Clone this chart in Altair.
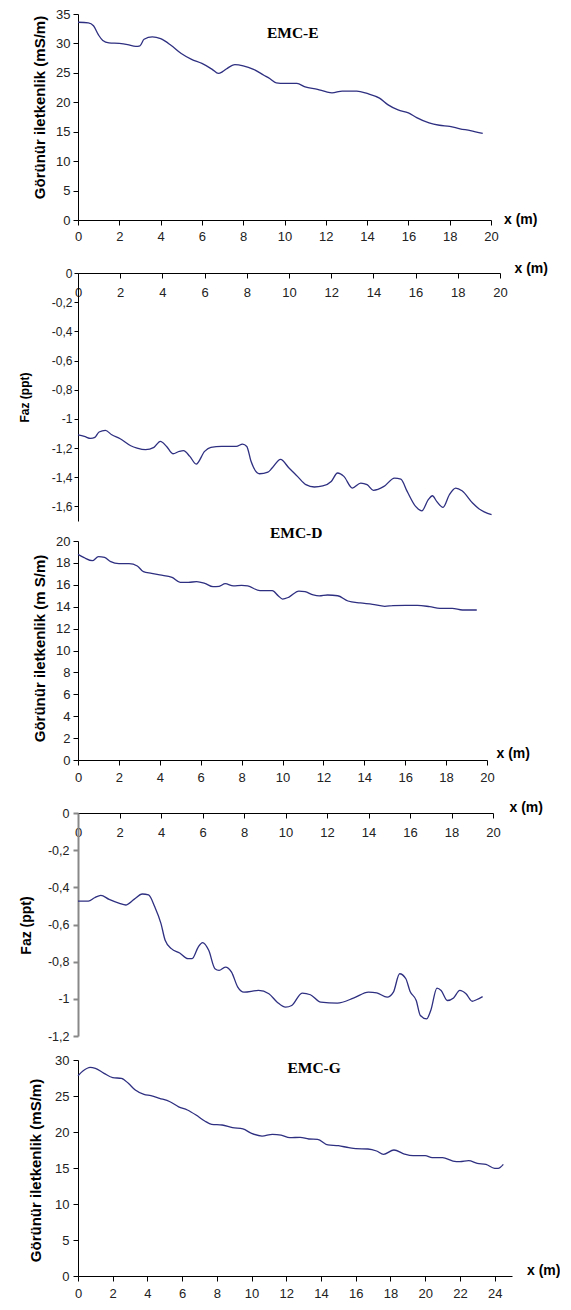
import altair as alt
import pandas as pd

FONT = "Liberation Sans"
SERIF = "Liberation Serif"
LINE = "#2e2f80"

# Panel 1: EMC-E apparent conductivity (mS/m)
e_x = [0, 0.5, 0.75, 1.0, 1.2, 1.5, 2.0, 2.4, 2.8, 3.0, 3.2, 3.6, 4.0, 4.5, 5.0, 5.5, 6.0, 6.5, 6.8, 7.0,
       7.2, 7.6, 8.0, 8.5, 9.0, 9.3, 9.6, 10.0, 10.6, 11.0, 11.6, 12.0, 12.3, 12.8, 13.5, 14.0, 14.6, 15.0,
       15.5, 16.0, 16.4, 17.0, 17.5, 18.0, 18.5, 19.0, 19.6]
e_y = [33.6, 33.5, 33.0, 31.4, 30.5, 30.1, 30.0, 29.8, 29.5, 29.6, 30.7, 31.1, 30.8, 29.7, 28.3, 27.3, 26.6,
       25.6, 24.9, 25.2, 25.7, 26.4, 26.2, 25.6, 24.6, 24.0, 23.3, 23.2, 23.2, 22.6, 22.2, 21.8, 21.6, 21.9,
       21.9, 21.5, 20.7, 19.6, 18.7, 18.2, 17.4, 16.5, 16.1, 15.9, 15.5, 15.2, 14.7]

# Panel 2: EMC-E phase (ppt)
pe_x = [0, 0.3, 0.6, 0.8, 1.0, 1.3, 1.6, 2.0, 2.5, 2.8, 3.2, 3.6, 3.9, 4.2, 4.5, 4.8, 5.0, 5.3, 5.6, 6.0,
        6.3, 6.8, 7.5, 7.8, 8.0, 8.2, 8.6, 9.0, 9.2, 9.6, 10.0, 10.4, 10.8, 11.2, 11.6, 12.0, 12.3, 12.6,
        13.0, 13.4, 13.7, 14.0, 14.5, 15.0, 15.3, 15.6, 16.0, 16.3, 16.6, 16.8, 17.0, 17.3, 17.6, 17.9,
        18.2, 18.7, 19.0, 19.6]
pe_y = [-1.11, -1.12, -1.134, -1.127, -1.09, -1.079, -1.109, -1.136, -1.184, -1.20, -1.211, -1.195, -1.154,
        -1.189, -1.239, -1.223, -1.218, -1.257, -1.31, -1.223, -1.195, -1.189, -1.189, -1.173, -1.189,
        -1.291, -1.376, -1.365, -1.337, -1.278, -1.337, -1.394, -1.451, -1.467, -1.46, -1.429, -1.371,
        -1.394, -1.474, -1.44, -1.451, -1.49, -1.463, -1.406, -1.413, -1.497, -1.60, -1.63, -1.554, -1.527,
        -1.566, -1.607, -1.52, -1.474, -1.493, -1.577, -1.616, -1.657]

# Panel 3: EMC-D apparent conductivity (mS/m)
d_x = [0, 0.3, 0.7, 1.0, 1.3, 1.6, 2.0, 2.5, 2.9, 3.2, 3.6, 4.0, 4.6, 5.0, 5.4, 5.8, 6.2, 6.6, 6.9, 7.2,
       7.6, 8.0, 8.3, 8.9, 9.5, 9.8, 10.0, 10.3, 10.8, 11.1, 11.5, 11.8, 12.2, 12.7, 13.2, 13.8, 14.4, 15.0,
       15.4, 16.0, 16.6, 17.2, 17.7, 18.3, 18.8, 19.5]
d_y = [18.78, 18.48, 18.2, 18.57, 18.5, 18.11, 17.93, 17.93, 17.72, 17.2, 17.05, 16.9, 16.68, 16.22, 16.22,
       16.29, 16.13, 15.83, 15.86, 16.1, 15.9, 15.95, 15.9, 15.46, 15.46, 14.98, 14.7, 14.86, 15.43, 15.37,
       15.07, 14.98, 15.07, 15.0, 14.52, 14.34, 14.22, 14.03, 14.1, 14.13, 14.13, 14.0, 13.85, 13.85, 13.7,
       13.7]

# Panel 4: EMC-D phase (ppt)
pd_x = [0, 0.5, 0.8, 1.1, 1.5, 2.0, 2.3, 2.7, 3.1, 3.4, 3.7, 4.0, 4.2, 4.5, 4.9, 5.3, 5.5, 5.8, 6.0, 6.3,
        6.6, 6.8, 7.1, 7.4, 7.7, 8.0, 8.7, 9.2, 9.6, 10.0, 10.3, 10.8, 11.2, 11.7, 12.5, 13.3, 14.0, 14.4,
        14.9, 15.2, 15.5, 15.8, 16.0, 16.3, 16.5, 16.8, 17.0, 17.3, 17.5, 17.8, 18.1, 18.4, 18.7, 19.0,
        19.2, 19.5]
pd_y = [-0.474, -0.474, -0.456, -0.443, -0.465, -0.486, -0.495, -0.465, -0.436, -0.441, -0.505, -0.595,
        -0.685, -0.73, -0.753, -0.784, -0.784, -0.72, -0.697, -0.739, -0.838, -0.847, -0.829, -0.856,
        -0.937, -0.964, -0.955, -0.973, -1.018, -1.045, -1.036, -0.969, -0.978, -1.018, -1.023, -0.995,
        -0.964, -0.968, -0.991, -0.964, -0.865, -0.892, -0.959, -1.009, -1.09, -1.108, -1.063, -0.942,
        -0.955, -1.009, -0.995, -0.955, -0.973, -1.013, -1.005, -0.988]

# Panel 5: EMC-G apparent conductivity (mS/m)
g_x = [0, 0.3, 0.7, 1.0, 1.5, 2.0, 2.5, 2.9, 3.3, 3.8, 4.2, 4.7, 5.3, 5.8, 6.3, 6.8, 7.3, 7.7, 8.3, 8.9,
       9.5, 10.0, 10.6, 11.2, 11.7, 12.2, 12.8, 13.3, 13.8, 14.4, 15.0, 15.6, 16.0, 16.7, 17.2, 17.6, 18.2,
       18.8, 19.3, 20.0, 20.4, 21.0, 21.6, 22.0, 22.5, 23.0, 23.5, 24.0, 24.2, 24.5]
g_y = [27.82, 28.5, 28.98, 28.84, 28.15, 27.55, 27.45, 26.76, 25.83, 25.23, 25.05, 24.68, 24.2, 23.5, 23.06,
       22.36, 21.53, 21.06, 20.97, 20.6, 20.42, 19.81, 19.44, 19.68, 19.58, 19.21, 19.26, 19.03, 18.98, 18.2,
       18.1, 17.82, 17.69, 17.64, 17.36, 16.9, 17.5, 16.94, 16.71, 16.71, 16.44, 16.44, 15.97, 15.88, 16.02,
       15.65, 15.5, 14.95, 14.95, 15.5]

# Tick values
x_ticks_20 = [0, 2, 4, 6, 8, 10, 12, 14, 16, 18, 20]
x_ticks_24 = [0, 2, 4, 6, 8, 10, 12, 14, 16, 18, 20, 22, 24]
y_ticks_35 = [0, 5, 10, 15, 20, 25, 30, 35]
y_ticks_20 = [0, 2, 4, 6, 8, 10, 12, 14, 16, 18, 20]
y_ticks_30 = [0, 5, 10, 15, 20, 25, 30]
y_ticks_p16 = [0, -0.2, -0.4, -0.6, -0.8, -1.0, -1.2, -1.4, -1.6]
y_ticks_p12 = [0, -0.2, -0.4, -0.6, -0.8, -1.0, -1.2]

COMMA = "(datum.value < 0 ? '-' : '') + replace(format(abs(datum.value), '~g'), '.', ',')"

YT_COND = "Görünür iletkenlik (mS/m)"
YT_COND_D = "Görünür iletkenlik (m S/m)"
YT_PHASE = "Faz (ppt)"
XT = "x (m)"


def x_axis(w, values, top=None, h=0, tx=12, ty=-1, lsize=13, lpad=5):
    kw = dict(
        title=XT, titleX=w + tx, titleY=ty, titleAlign="left", titleBaseline="middle", titleAngle=0,
        titleFont=FONT, titleFontSize=14, titleFontWeight="bold", titleColor="#000",
        values=values, format="d", labelFont=FONT, labelFontSize=lsize, labelColor="#222",
        labelPadding=lpad, labelFlush=False, labelOverlap=False, tickSize=5, tickColor="#000",
        domainColor="#000", grid=False, orient="bottom",
    )
    if top:
        kw["offset"] = -h
    return alt.Axis(**kw)


def y_axis(title, values, tx, ty, tsize, lsize, tick, lpad, comma=False, dcolor="#000", dwidth=1):
    kw = dict(
        title=title, titleX=tx, titleY=ty, titleAngle=270, titleAlign="center", titleBaseline="middle",
        titleFont=FONT, titleFontSize=tsize, titleFontWeight="bold", titleColor="#000",
        values=values, labelFont=FONT, labelFontSize=lsize, labelColor="#222", labelPadding=lpad,
        labelFlush=False, labelOverlap=False, tickSize=tick, tickColor=dcolor, domainColor=dcolor,
        domainWidth=dwidth, tickWidth=dwidth, grid=False,
    )
    if comma:
        kw["labelExpr"] = COMMA
    return alt.Axis(**kw)


def panel(xs, ys, w, h, xdom, ydom, xax, yax, label=None, lx=None, ly=None):
    df = pd.DataFrame({"x": xs, "y": ys})
    xs_ = alt.Scale(domain=xdom, nice=False, zero=False)
    ys_ = alt.Scale(domain=ydom, nice=False, zero=False)
    line = alt.Chart(df).mark_line(color=LINE, strokeWidth=1.3, interpolate="monotone").encode(
        x=alt.X("x:Q", scale=xs_, axis=xax),
        y=alt.Y("y:Q", scale=ys_, axis=yax),
    )
    layers = [line]
    if label:
        t = alt.Chart(pd.DataFrame({"t": [label]})).mark_text(
            font=SERIF, fontSize=15.5, fontWeight="bold", color="#000", align="center", baseline="middle"
        ).encode(
            x=alt.datum(lx, scale=xs_, axis=xax, type="quantitative"),
            y=alt.datum(ly, scale=ys_, axis=yax, type="quantitative"),
            text="t:N",
        )
        layers.append(t)
    return alt.layer(*layers).properties(width=w, height=h)


W1, H1 = 413, 206
W2, H2 = 422, 248
W3, H3 = 409, 219
W4, H4 = 415, 223
W5, H5 = 434, 216

p1 = panel(e_x, e_y, W1, H1, [0, 20], [0, 35],
           x_axis(W1, x_ticks_20, tx=12.5, ty=-1),
           y_axis(YT_COND, y_ticks_35, -39, 93, 15, 13, 5, 3),
           "EMC-E", 10.4, 31.8)
p2 = panel(pe_x, pe_y, W2, H2, [0, 20], [-1.7, 0],
           x_axis(W2, x_ticks_20, top=True, h=H2, tx=14, ty=-4.5, lsize=13, lpad=8),
           y_axis(YT_PHASE, y_ticks_p16, -54, 124, 12, 12, 4, 2, comma=True))
p3 = panel(d_x, d_y, W3, H3, [0, 20], [0, 20],
           x_axis(W3, x_ticks_20, tx=9, ty=-7, lpad=6),
           y_axis(YT_COND_D, y_ticks_20, -39, 107, 15, 13, 5, 3),
           "EMC-D", 10.67, 20.7)
p4 = panel(pd_x, pd_y, W4, H4, [0, 20], [-1.2, 0],
           x_axis(W4, x_ticks_20, top=True, h=H4, tx=16, ty=-6, lsize=13, lpad=8),
           y_axis(YT_PHASE, y_ticks_p12, -52, 112, 14, 12.5, 5, 4, comma=True, dcolor="#888", dwidth=2))
p5 = panel(g_x, g_y, W5, H5, [0, 25], [0, 30],
           x_axis(W5, x_ticks_24, tx=14.5, ty=-6, lpad=6),
           y_axis(YT_COND, y_ticks_30, -43, 110, 15, 13, 5, 4),
           "EMC-G", 13.6, 28.9)

g12 = alt.vconcat(p1, p2, spacing=18)
g45 = alt.vconcat(p4, p5, spacing=11)
g345 = alt.vconcat(p3, g45, spacing=16)
chart = alt.vconcat(g12, g345, spacing=5).properties(
    padding={"left": 10, "top": 0, "right": 0, "bottom": 0}
).configure_view(stroke=None)

chart.save("out.html", embed_options={"renderer": "svg", "actions": False})
